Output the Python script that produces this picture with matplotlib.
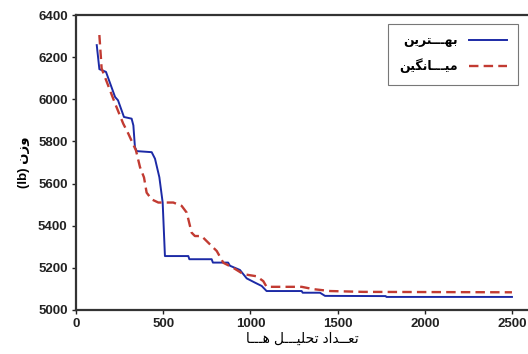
import matplotlib
matplotlib.use("Agg")
import matplotlib.pyplot as plt

# evaluations vs weight (lb)
best_x = [119, 134, 172, 224, 241, 275, 319, 329, 338, 348, 434, 453, 478, 497, 510,
          644, 650, 778, 785, 872, 883, 940, 979, 1026, 1065, 1093, 1294, 1300,
          1399, 1428, 1776, 1780, 2500]
best_y = [6257, 6143, 6130, 6011, 5995, 5916, 5908, 5876, 5773, 5754, 5749, 5718, 5630, 5510, 5256,
          5256, 5241, 5241, 5225, 5225, 5210, 5190, 5150, 5130, 5114, 5090, 5090, 5082,
          5082, 5067, 5066, 5062, 5062]

mean_x = [134, 147, 224, 271, 300, 344, 367, 390, 405, 434, 472, 558, 606, 635, 663, 682,
          720, 759, 807, 845, 902, 960, 1036, 1074, 1093, 1294, 1361, 1457, 1648, 2500]
mean_y = [6305, 6146, 5980, 5884, 5837, 5757, 5678, 5629, 5557, 5525, 5510, 5510, 5494, 5462,
          5367, 5351, 5351, 5319, 5280, 5224, 5200, 5170, 5160, 5137, 5110, 5110, 5099, 5090,
          5086, 5084]

x_ticks = [0, 500, 1000, 1500, 2000, 2500]
y_ticks = [5000, 5200, 5400, 5600, 5800, 6000, 6200, 6400]

# Persian text in visual order with presentation forms (matplotlib has no shaping)
K = "\u0640"
label_best = "\uFEE6\uFEF3\uFEAE\uFE98" + K * 3 + "\uFEEC\uFE91"
label_mean = "\uFEE6\uFEF4\uFB95\uFEE7\uFE8E" + K * 3 + "\uFEF4\uFEE3"
xlabel = ("\uFE8E" + K * 3 + "\uFEEB" + " " +
          "\uFEDE" + K * 3 + "\uFEF4\uFEE0\uFEA4\uFE97" + " " +
          "\uFEA9\uFE8D\uFEAA" + K * 2 + "\uFECC\uFE97")
ylabel = "(lb) \uFEE5\uFEAF\uFEED"

FONT = ["Liberation Sans", "DejaVu Sans"]
plt.rcParams["font.family"] = FONT

fig = plt.figure(figsize=(5.28, 3.54), dpi=100)
ax = fig.add_axes([76 / 528, 1 - 310 / 354, 1 - 76 / 528, 295 / 354])

ax.plot(best_x, best_y, color="#1c2aa6", lw=1.4, label=label_best)
ax.plot(mean_x, mean_y, color="#c23b32", lw=1.7, ls=(0, (4, 2.2)), label=label_mean)

ax.set_xlim(0, 2592)
ax.set_ylim(5000, 6400)
ax.set_xticks(x_ticks)
ax.set_yticks(y_ticks)
ax.tick_params(direction="out", length=3, width=1, labelsize=9.5, pad=3, colors="#222222")
for lab in ax.get_xticklabels() + ax.get_yticklabels():
    lab.set_fontweight("bold")

for side in ("left", "bottom", "top"):
    ax.spines[side].set_linewidth(1.6)
    ax.spines[side].set_color("#333333")
ax.spines["right"].set_visible(False)

ax.set_xlabel(xlabel, fontsize=10, labelpad=1)
ax.set_ylabel(ylabel, fontsize=9.5, fontweight="bold", labelpad=6)

leg = ax.legend(loc="upper right", bbox_to_anchor=(518 / 528, 1 - 24 / 354),
                bbox_transform=fig.transFigure, markerfirst=False, fancybox=False,
                frameon=True, edgecolor="#555555", fontsize=9, handlelength=3.0,
                borderpad=0.9, labelspacing=0.9, handletextpad=0.9, borderaxespad=0)
leg.get_frame().set_linewidth(0.8)
for t in leg.get_texts():
    t.set_fontweight("bold")

fig.savefig("out.png", dpi=100)
